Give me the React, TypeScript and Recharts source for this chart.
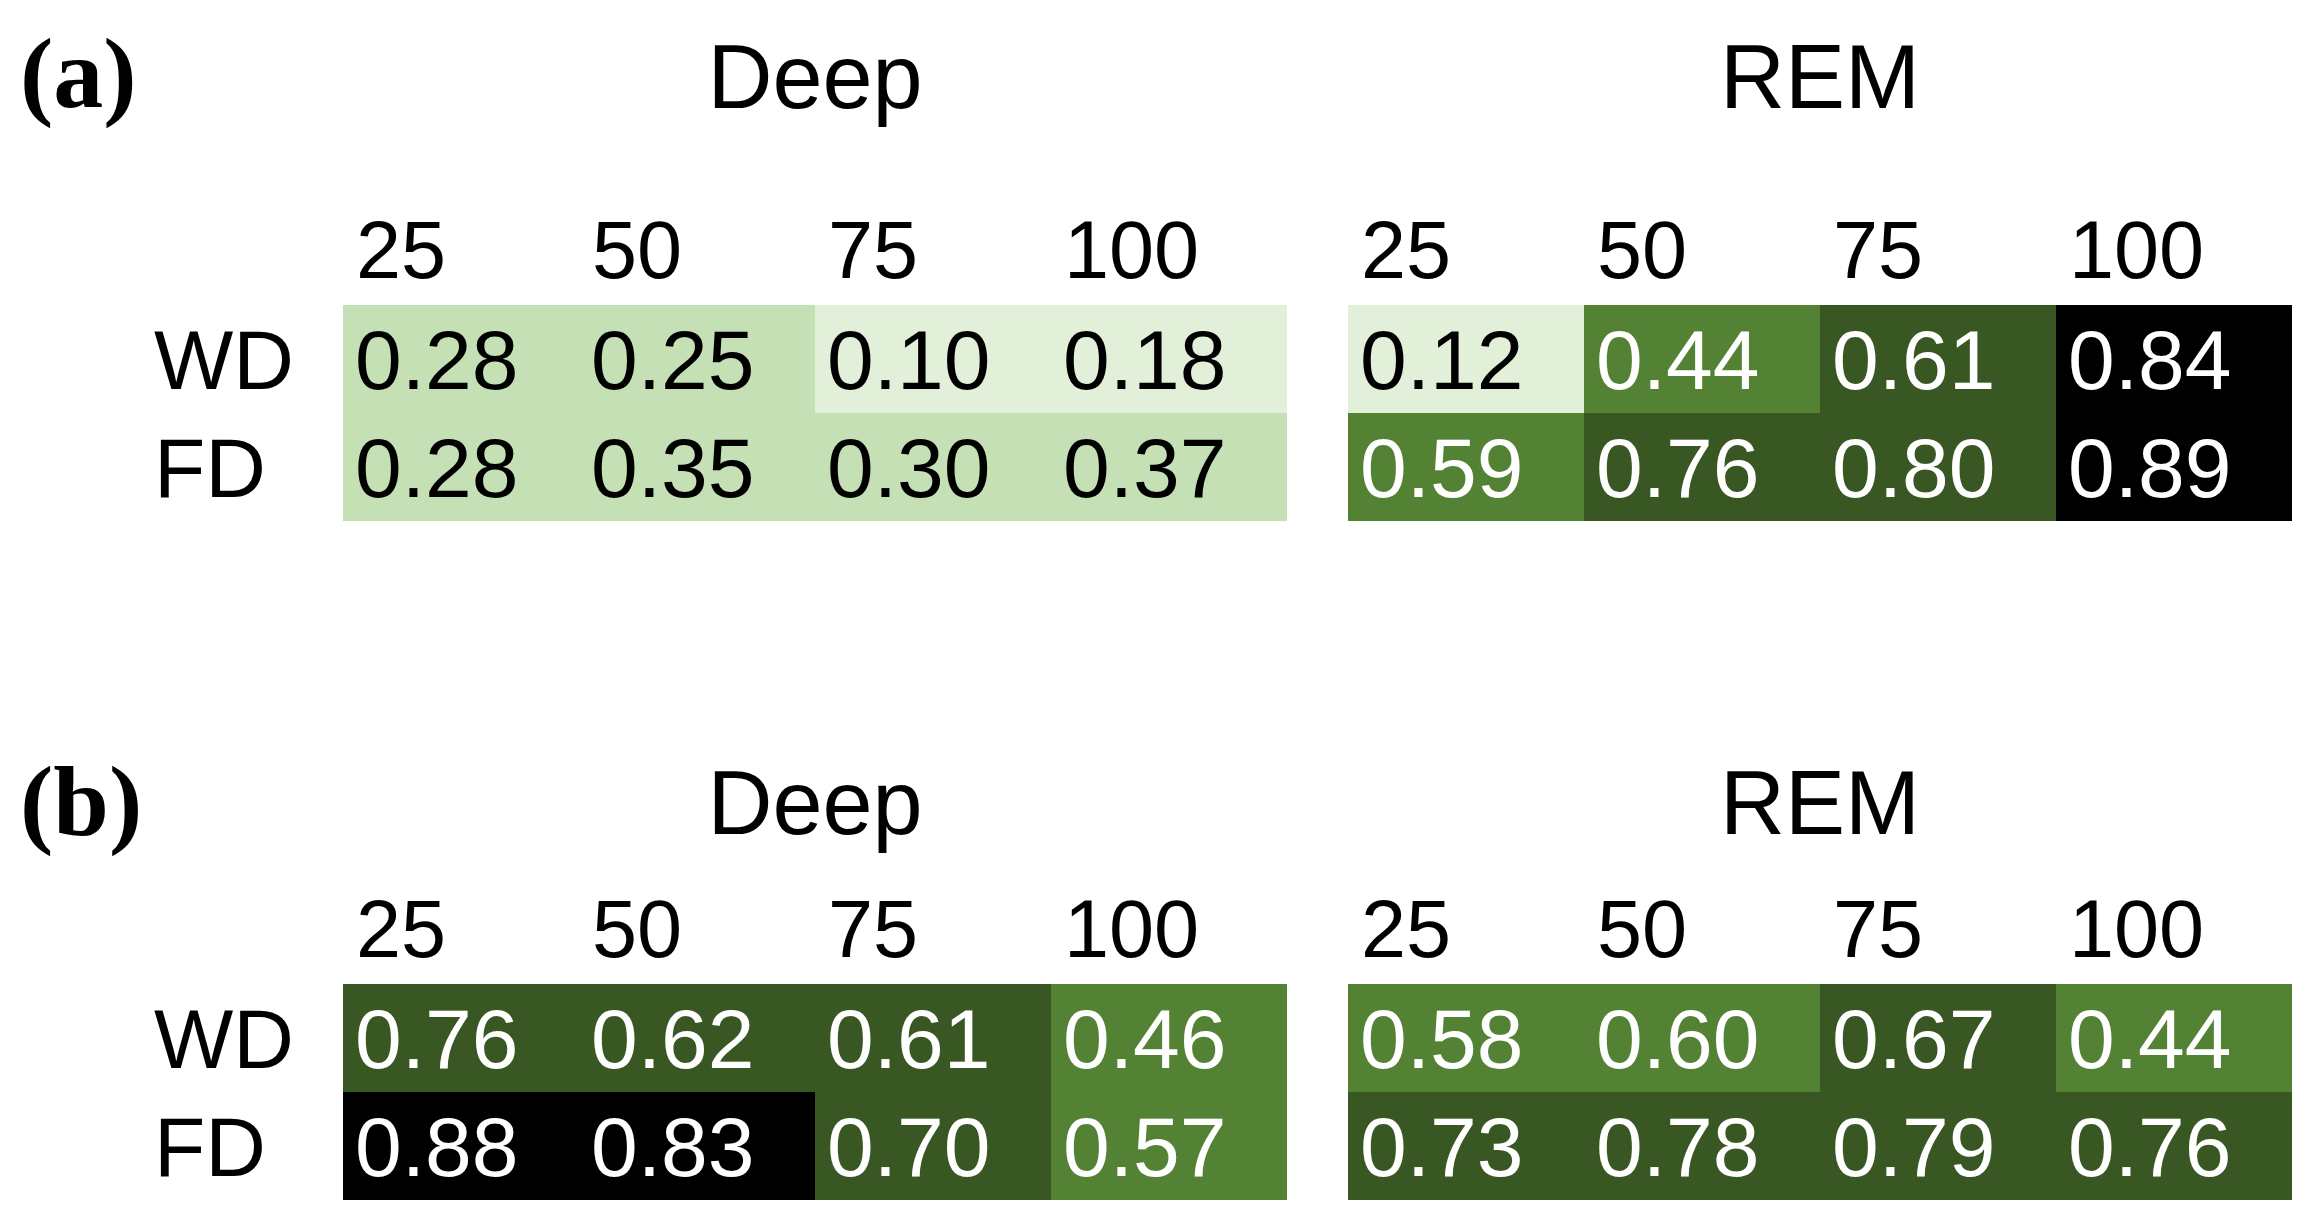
import React from 'react';
import { BarChart, Bar, XAxis, YAxis, Cell, LabelList } from 'recharts';

const columns = ['25', '50', '75', '100'];
const rows = ['WD', 'FD'];

// panel (a)
const deepA_WD = [0.28, 0.25, 0.1, 0.18];
const deepA_FD = [0.28, 0.35, 0.3, 0.37];
const remA_WD = [0.12, 0.44, 0.61, 0.84];
const remA_FD = [0.59, 0.76, 0.8, 0.89];

// panel (b)
const deepB_WD = [0.76, 0.62, 0.61, 0.46];
const deepB_FD = [0.88, 0.83, 0.7, 0.57];
const remB_WD = [0.58, 0.6, 0.67, 0.44];
const remB_FD = [0.73, 0.78, 0.79, 0.76];

const FONT = '"Liberation Sans", Arial, sans-serif';
const FS = 84;
const HEAD_FS = 81;
const PLOT_W = 944;
const PLOT_H = 216;
const X_AXIS_H = 100;
const Y_AXIS_W = 200;

const cellColor = (v: number) => {
  if (v < 0.2) return '#e2f0d9';
  if (v < 0.4) return '#c5e0b4';
  if (v < 0.605) return '#548235';
  if (v < 0.82) return '#385723';
  return '#000000';
};
const textColor = (v: number) => (v < 0.4 ? '#000000' : '#ffffff');

const renderValue = (props: any) => {
  const { x, y, width, height, value } = props;
  return (
    <text
      x={x + 12}
      y={y + height / 2}
      dy="0.36em"
      fontFamily={FONT}
      fontSize={FS}
      fill={textColor(value)}
      textAnchor="start"
    >
      {Number(value).toFixed(2)}
    </text>
  );
};

const HeaderTick = (props: any) => {
  const { x, y, payload } = props;
  return (
    <text x={x - PLOT_W / 8 + 13} y={y - 56} dy="0.36em" fontFamily={FONT} fontSize={HEAD_FS} fill="#000" textAnchor="start">
      {payload.value}
    </text>
  );
};

const RowTick = (props: any) => {
  const { x, y, payload } = props;
  return (
    <text x={x - 189} y={y} dy="0.36em" fontFamily={FONT} fontSize={FS} fill="#000" textAnchor="start">
      {rows[payload.value === 1.5 ? 0 : 1]}
    </text>
  );
};

interface GridProps {
  wd: number[];
  fd: number[];
  showRows: boolean;
}

const Grid = ({ wd, fd, showRows }: GridProps) => {
  const data = columns.map((c, i) => ({ col: c, FD: 1, WD: 1, fdVal: fd[i], wdVal: wd[i] }));
  return (
    <BarChart
      width={PLOT_W + (showRows ? Y_AXIS_W : 0)}
      height={PLOT_H + X_AXIS_H}
      data={data}
      margin={{ top: 0, right: 0, bottom: 0, left: 0 }}
      barCategoryGap={0}
      barGap={0}
    >
      <XAxis
        dataKey="col"
        orientation="top"
        height={X_AXIS_H}
        axisLine={false}
        tickLine={false}
        tickSize={0}
        tickMargin={0}
        interval={0}
        tick={<HeaderTick />}
      />
      <YAxis
        type="number"
        domain={[0, 2]}
        ticks={[0.5, 1.5]}
        width={showRows ? Y_AXIS_W : 0}
        hide={!showRows}
        axisLine={false}
        tickLine={false}
        tickSize={0}
        tickMargin={0}
        tick={<RowTick />}
      />
      <Bar dataKey="FD" stackId="s" isAnimationActive={false}>
        {data.map((d, i) => (
          <Cell key={`fd-${i}`} fill={cellColor(d.fdVal)} />
        ))}
        <LabelList dataKey="fdVal" content={renderValue} />
      </Bar>
      <Bar dataKey="WD" stackId="s" isAnimationActive={false}>
        {data.map((d, i) => (
          <Cell key={`wd-${i}`} fill={cellColor(d.wdVal)} />
        ))}
        <LabelList dataKey="wdVal" content={renderValue} />
      </Bar>
    </BarChart>
  );
};

const titleStyle: React.CSSProperties = {
  position: 'absolute',
  fontFamily: FONT,
  fontSize: 90,
  lineHeight: 1,
  color: '#000',
  width: PLOT_W,
  textAlign: 'center',
};

const panelLabel: React.CSSProperties = {
  position: 'absolute',
  left: 20,
  fontFamily: '"Liberation Serif", "Times New Roman", serif',
  fontWeight: 'bold',
  fontSize: 100,
  lineHeight: 1,
  color: '#000',
};

const DEEP_X = 343;
const REM_X = 1348;
const TOP_A = 305;
const TOP_B = 984;

export default function App() {
  return (
    <div style={{ position: 'absolute', left: 0, top: 0, width: 2320, height: 1230, background: '#fff', overflow: 'hidden' }}>
      <div style={{ ...panelLabel, top: 24 }}>(a)</div>
      <div style={{ ...titleStyle, left: DEEP_X, top: 32 }}>Deep</div>
      <div style={{ ...titleStyle, left: REM_X, top: 32 }}>REM</div>
      <div style={{ position: 'absolute', left: DEEP_X - Y_AXIS_W, top: TOP_A - X_AXIS_H }}>
        <Grid wd={deepA_WD} fd={deepA_FD} showRows />
      </div>
      <div style={{ position: 'absolute', left: REM_X, top: TOP_A - X_AXIS_H }}>
        <Grid wd={remA_WD} fd={remA_FD} showRows={false} />
      </div>

      <div style={{ ...panelLabel, top: 752 }}>(b)</div>
      <div style={{ ...titleStyle, left: DEEP_X, top: 758 }}>Deep</div>
      <div style={{ ...titleStyle, left: REM_X, top: 758 }}>REM</div>
      <div style={{ position: 'absolute', left: DEEP_X - Y_AXIS_W, top: TOP_B - X_AXIS_H }}>
        <Grid wd={deepB_WD} fd={deepB_FD} showRows />
      </div>
      <div style={{ position: 'absolute', left: REM_X, top: TOP_B - X_AXIS_H }}>
        <Grid wd={remB_WD} fd={remB_FD} showRows={false} />
      </div>
    </div>
  );
}
